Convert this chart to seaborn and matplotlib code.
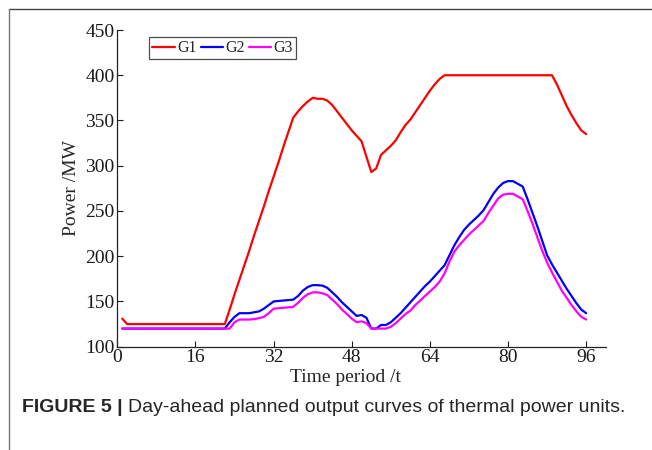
import pandas as pd
import seaborn as sns
import matplotlib.pyplot as plt
from matplotlib.lines import Line2D

# Time periods 1..96
periods = list(range(1, 97))

# Unit outputs (MW)
g1 = [131] + [125] * 21 + [
    141, 158, 174, 190, 206, 223, 239, 255, 272, 288, 304, 321, 337, 353,
    360, 366, 371, 375, 374, 374, 372, 367, 360, 353, 346, 339, 333, 327,
    310, 293, 297, 312, 317, 322, 328, 337, 345, 351, 359, 367, 375, 383,
    390, 396] + [400] * 23 + [390, 378, 366, 356, 347, 339, 335]

g2 = [120] * 22 + [
    127, 133, 137, 137, 137, 138, 139, 142, 146, 150, 150.5, 151, 151.5, 152,
    156, 162, 166, 168, 168, 167.5, 165, 160, 155, 149, 144, 139, 134, 135,
    132, 120, 120, 124, 124, 127, 132, 137, 143, 149, 155, 161, 167, 172,
    178, 184, 190, 201, 212, 221, 229, 235, 240, 245, 251, 260, 269, 276,
    281, 283, 283, 280, 277, 263, 248, 233, 217, 201, 191, 182, 173, 164,
    156, 148, 141, 137]

g3 = [120] * 23 + [
    127, 130, 130, 130, 130.5, 131.5, 133, 137, 142, 142.5, 143, 143.5, 144,
    148.5, 154, 158, 160, 160, 159, 157, 152, 147, 141, 136, 131, 127, 128,
    126, 120, 120, 120, 120, 122, 126, 131, 136, 140, 146, 151, 156, 161,
    166, 172, 181, 194, 205, 212, 218, 224, 229, 234, 239, 248, 256, 264,
    268, 269, 269, 266, 263, 250, 236, 221, 206, 193, 182, 172, 162, 154,
    146, 139, 133, 130]

units = ['G1', 'G2', 'G3']
colors = {'G1': '#ff0000', 'G2': '#0000ff', 'G3': '#ff00ff'}
x_ticks = [0, 16, 32, 48, 64, 80, 96]
y_ticks = [100, 150, 200, 250, 300, 350, 400, 450]

df = pd.concat([
    pd.DataFrame({'t': periods, 'power': vals, 'unit': name})
    for name, vals in zip(units, [g1, g2, g3])
])

sns.set_style('ticks')
plt.rcParams['font.family'] = ['Liberation Serif', 'DejaVu Serif']

fig = plt.figure(figsize=(6.52, 4.5), dpi=100)
ax = fig.add_axes([0.18, 0.2296, 0.749, 0.7037])

sns.lineplot(data=df, x='t', y='power', hue='unit', palette=colors,
             linewidth=1.6, ax=ax)

ax.set_xlim(0, 100)
ax.set_ylim(100, 450)
ax.set_xticks(x_ticks)
ax.set_yticks(y_ticks)
ax.tick_params(direction='in', length=4, width=0.8, labelsize=14,
               colors='#1a1a1a', pad=2)
sns.despine(ax=ax)
for s in ['left', 'bottom']:
    ax.spines[s].set_color('#222222')
    ax.spines[s].set_linewidth(0.9)

ax.set_xlabel('Time period /t', fontsize=14)
ax.xaxis.set_label_coords(0.468, -0.072)
ax.set_ylabel('Power /MW', fontsize=14, labelpad=4)

leg = ax.legend(loc='upper left', bbox_to_anchor=(0.065, 0.978), ncol=3,
                fontsize=11.5, frameon=True, fancybox=False,
                handlelength=1.4, handletextpad=0.15, columnspacing=0.25,
                borderpad=0.2, borderaxespad=0)
leg.get_frame().set_edgecolor('#222222')
leg.get_frame().set_linewidth(0.9)

# page frame (top and left edges)
fig.add_artist(Line2D([0.0138, 1.0], [0.98, 0.98], color='#444444', lw=1))
fig.add_artist(Line2D([0.0138, 0.0138], [0.0, 0.98], color='#777777', lw=1))

# caption: bold label followed by plain text
cap_font = ['Liberation Sans', 'DejaVu Sans']
bold = fig.text(0.034, 0.095, 'FIGURE 5 | ', fontsize=14, fontweight='bold',
                family=cap_font, va='center')
renderer = fig.canvas.get_renderer()
bb = bold.get_window_extent(renderer=renderer).transformed(fig.transFigure.inverted())
fig.text(bb.x1, 0.095, 'Day-ahead planned output curves of thermal power units.',
         fontsize=14, family=cap_font, va='center')

fig.savefig('out.png', dpi=100)
